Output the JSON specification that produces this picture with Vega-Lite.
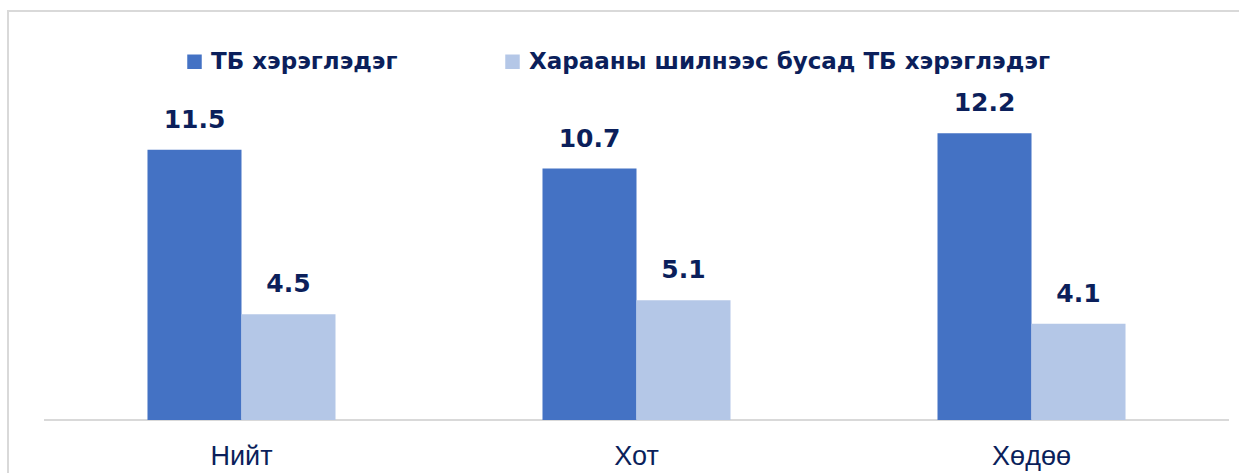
{
  "$schema": "https://vega.github.io/schema/vega-lite/v6.json",
  "autosize": {"type": "none"},
  "padding": {"left": 8, "top": 11, "right": 0, "bottom": 0},
  "width": 1231,
  "height": 462,
  "background": "white",
  "config": {
    "view": {"stroke": "#d9d9d9", "strokeWidth": 2, "strokeDash": [1231, 1693, 462]},
    "font": "Liberation Sans"
  },
  "data": {
    "values": [
      {"area": "Нийт", "series": "ТБ хэрэглэдэг", "value": 11.5},
      {"area": "Нийт", "series": "Харааны шилнээс бусад ТБ хэрэглэдэг", "value": 4.5},
      {"area": "Хот", "series": "ТБ хэрэглэдэг", "value": 10.7},
      {"area": "Хот", "series": "Харааны шилнээс бусад ТБ хэрэглэдэг", "value": 5.1},
      {"area": "Хөдөө", "series": "ТБ хэрэглэдэг", "value": 12.2},
      {"area": "Хөдөө", "series": "Харааны шилнээс бусад ТБ хэрэглэдэг", "value": 4.1}
    ]
  },
  "encoding": {
    "x": {
      "field": "area",
      "type": "nominal",
      "sort": ["Нийт", "Хот", "Хөдөө"],
      "scale": {"paddingInner": 0.524, "paddingOuter": 0.3202, "align": 0.5514},
      "axis": {
        "title": null,
        "labelAngle": 0,
        "labelFontSize": 27,
        "labelColor": "#0b1f5b",
        "labelPadding": 23,
        "offset": -53,
        "ticks": false,
        "domain": false,
        "grid": false
      }
    },
    "y": {
      "field": "value",
      "type": "quantitative",
      "scale": {"domain": [-2.2553, 17.404], "nice": false, "zero": false},
      "axis": null
    }
  },
  "layer": [
    {
      "transform": [{"filter": "datum.series === 'ТБ хэрэглэдэг' && datum.area === 'Хот'"}],
      "mark": {"type": "tick", "color": "#d9d9d9", "size": 1185, "thickness": 2, "orient": "horizontal", "opacity": 1},
      "encoding": {
        "y": {"datum": 0}
      }
    },
    {
      "mark": {"type": "bar"},
      "encoding": {
        "xOffset": {
          "field": "series",
          "type": "nominal",
          "sort": ["ТБ хэрэглэдэг", "Харааны шилнээс бусад ТБ хэрэглэдэг"],
          "scale": {"paddingInner": 0, "paddingOuter": 0}
        },
        "y2": {"datum": 0},
        "color": {
          "field": "series",
          "type": "nominal",
          "sort": ["ТБ хэрэглэдэг", "Харааны шилнээс бусад ТБ хэрэглэдэг"],
          "scale": {"range": ["#4472c4", "#b4c7e7"]},
          "legend": {
            "title": null,
            "orient": "none",
            "direction": "horizontal",
            "legendX": 175,
            "legendY": 39,
            "symbolType": "square",
            "symbolSize": 210,
            "symbolStrokeWidth": 0,
            "labelFont": "DejaVu Sans",
            "labelFontSize": 23,
            "labelFontWeight": "bold",
            "labelColor": "#0b1f5b",
            "labelOffset": 5,
            "labelLimit": 1000,
            "columnPadding": 103
          }
        }
      }
    },
    {
      "mark": {
        "type": "text",
        "baseline": "alphabetic",
        "dy": -22,
        "font": "DejaVu Sans",
        "fontSize": 25,
        "fontWeight": "bold",
        "color": "#0b1f5b"
      },
      "encoding": {
        "xOffset": {
          "field": "series",
          "type": "nominal",
          "sort": ["ТБ хэрэглэдэг", "Харааны шилнээс бусад ТБ хэрэглэдэг"]
        },
        "text": {"field": "value", "type": "quantitative", "format": ".1f"}
      }
    }
  ]
}
